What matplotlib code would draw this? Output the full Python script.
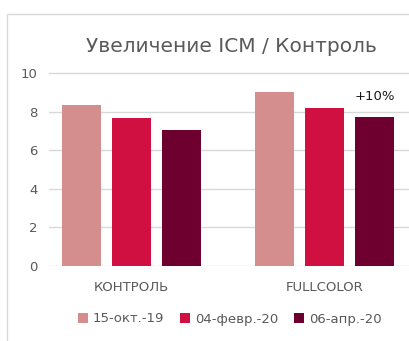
import matplotlib.pyplot as plt
import numpy as np
from matplotlib.patches import Rectangle

plt.rcParams['font.family'] = ['DejaVu Sans']

groups = ["КОНТРОЛЬ", "FULLCOLOR"]
dates = ["15-окт.-19", "04-февр.-20", "06-апр.-20"]
values = [
    [8.35, 9.0],   # 15-окт.-19
    [7.68, 8.2],   # 04-февр.-20
    [7.05, 7.72],  # 06-апр.-20
]
colors = ["#D58E8E", "#D01040", "#6E0030"]
note = "+10%"

fig = plt.figure(figsize=(4.1, 3.41), dpi=100)
W, H = 410, 341

# chart area border (runs off the right and bottom edge)
fig.patches.append(Rectangle((7 / W, -0.1), 1.0, 1 - 14 / H + 0.1,
                             transform=fig.transFigure, fill=False,
                             edgecolor="#D9D9D9", linewidth=1.0))

ax = fig.add_axes([49 / W, 1 - 266 / H, 1 - 49 / W, (266 - 73) / H])

x = np.arange(len(groups))
width = 0.202
step = 0.259
for i, (lab, vals, c) in enumerate(zip(dates, values, colors)):
    ax.bar(x + (i - 1) * step, vals, width, color=c, label=lab, zorder=3)

ax.text(x[1] + step, values[2][1] + 0.7, note, ha="center", va="bottom",
        fontsize=9.5, color="#1A1A1A")

ax.set_ylim(0, 10)
ax.set_xlim(-0.427, 1.443)
ax.set_yticks(range(0, 11, 2))
ax.yaxis.grid(True, color="#D9D9D9", linewidth=1.0, zorder=0)
ax.set_axisbelow(True)
for s in ax.spines.values():
    s.set_visible(False)
ax.tick_params(length=0, labelsize=9.5, colors="#595959")
ax.tick_params(axis="y", pad=8)
ax.tick_params(axis="x", pad=11)
ax.set_xticks(x)
ax.set_xticklabels(groups)
for t in ax.get_yticklabels():
    t.set_clip_on(False)
ax.get_ygridlines()[-1].set_clip_on(False)

fig.text(231 / W, 1 - 47 / H, "Увеличение ICM / Контроль", ha="center",
         va="center", fontsize=14.5, color="#595959")

fig.legend(loc="center", bbox_to_anchor=(230 / W, 1 - 319 / H), ncol=3,
           frameon=False, fontsize=9.5, handlelength=0.75, handleheight=0.75,
           handletextpad=0.4, columnspacing=1.2, labelcolor="#595959")

fig.savefig("out.png", dpi=100)
